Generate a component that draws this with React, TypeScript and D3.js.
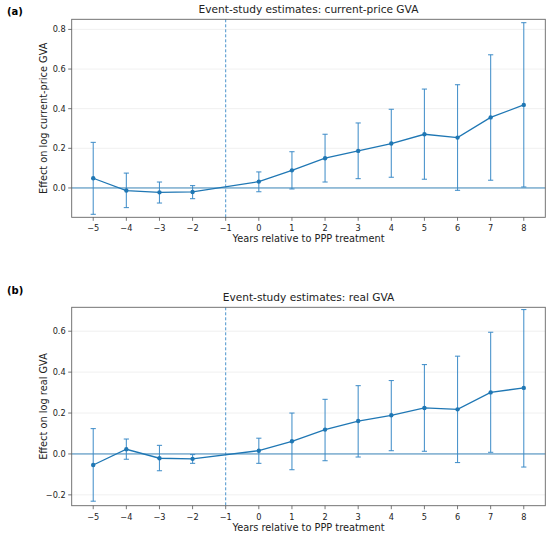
import React from "react";
import * as d3 from "d3";

const years = [-5, -4, -3, -2, 0, 1, 2, 3, 4, 5, 6, 7, 8];
const xTicks = [-5, -4, -3, -2, -1, 0, 1, 2, 3, 4, 5, 6, 7, 8];

const estA = [0.049, -0.013, -0.022, -0.02, 0.032, 0.089, 0.15, 0.187, 0.224, 0.271, 0.254, 0.356, 0.419];
const upA = [0.23, 0.075, 0.03, 0.012, 0.081, 0.183, 0.271, 0.328, 0.397, 0.499, 0.521, 0.672, 0.834];
const loA = [-0.133, -0.099, -0.076, -0.054, -0.019, -0.005, 0.03, 0.047, 0.054, 0.044, -0.012, 0.039, 0.005];
const yTicksA = [0.0, 0.2, 0.4, 0.6, 0.8];

const estB = [-0.054, 0.023, -0.021, -0.024, 0.016, 0.062, 0.119, 0.161, 0.189, 0.225, 0.218, 0.301, 0.323];
const upB = [0.124, 0.073, 0.042, -0.003, 0.077, 0.2, 0.267, 0.334, 0.359, 0.437, 0.478, 0.595, 0.706];
const loB = [-0.231, -0.026, -0.082, -0.046, -0.046, -0.077, -0.033, -0.015, 0.016, 0.013, -0.042, 0.008, -0.064];
const yTicksB = [-0.2, 0.0, 0.2, 0.4, 0.6];

const C0 = "#1f77b4";
const FONT = "DejaVu Sans, sans-serif";

type PanelProps = {
  top: number;
  bottom: number;
  tagY: number;
  yDomain: [number, number];
  est: number[];
  up: number[];
  lo: number[];
  yTicks: number[];
  title: string;
  ylabel: string;
  tag: string;
};

function fmt(v: number) {
  const s = v.toFixed(1);
  return s.startsWith("-") ? "\u2212" + s.slice(1) : s;
}

function fmtX(v: number) {
  return v < 0 ? "\u2212" + Math.abs(v) : String(v);
}

function Panel({ top, bottom, tagY, yDomain, est, up, lo, yTicks, title, ylabel, tag }: PanelProps) {
  const left = 71.7;
  const right = 545.3;
  const x = d3.scaleLinear().domain([-5.65, 8.65]).range([left, right]);
  const y = d3.scaleLinear().domain(yDomain).range([bottom, top]);
  const pts = years.map((yr, i) => [yr, est[i]] as [number, number]);
  const line = d3.line<[number, number]>().x((d) => x(d[0])).y((d) => y(d[1]));
  const cap = 2.6;
  return (
    <g>
      <text x={7} y={tagY} fontFamily={FONT} fontSize={10} fontWeight="bold" fill="#000">
        {tag}
      </text>
      <text x={(left + right) / 2} y={top - 6} textAnchor="middle" fontFamily={FONT} fontSize={10.6} fill="#222">
        {title}
      </text>
      {yTicks.map((t) => (
        <line key={"g" + t} x1={left} x2={right} y1={y(t)} y2={y(t)} stroke="#ececec" strokeWidth={0.8} />
      ))}
      <line x1={x(-1)} x2={x(-1)} y1={top} y2={bottom} stroke="#4a93cc" strokeWidth={1} strokeDasharray="3,2" />
      <line x1={left} x2={right} y1={y(0)} y2={y(0)} stroke={C0} strokeOpacity={0.85} strokeWidth={1} />
      {years.map((yr, i) => (
        <g key={"e" + yr} stroke="#3a8ac6" strokeOpacity={0.9} strokeWidth={1.1}>
          <line x1={x(yr)} x2={x(yr)} y1={y(lo[i])} y2={y(up[i])} />
          <line x1={x(yr) - cap} x2={x(yr) + cap} y1={y(lo[i])} y2={y(lo[i])} />
          <line x1={x(yr) - cap} x2={x(yr) + cap} y1={y(up[i])} y2={y(up[i])} />
        </g>
      ))}
      <path d={line(pts) || ""} fill="none" stroke={C0} strokeWidth={1.3} />
      {pts.map((p) => (
        <circle key={"m" + p[0]} cx={x(p[0])} cy={y(p[1])} r={2.2} fill={C0} />
      ))}
      <rect x={left} y={top} width={right - left} height={bottom - top} fill="none" stroke="#666" strokeWidth={0.9} />
      {xTicks.map((t) => (
        <g key={"xt" + t}>
          <line x1={x(t)} x2={x(t)} y1={bottom} y2={bottom + 3.5} stroke="#555" strokeWidth={0.8} />
          <text x={x(t)} y={bottom + 14} textAnchor="middle" fontFamily={FONT} fontSize={8.2} fill="#222">
            {fmtX(t)}
          </text>
        </g>
      ))}
      {yTicks.map((t) => (
        <g key={"yt" + t}>
          <line x1={left - 3.5} x2={left} y1={y(t)} y2={y(t)} stroke="#555" strokeWidth={0.8} />
          <text x={left - 6} y={y(t) + 3} textAnchor="end" fontFamily={FONT} fontSize={8.2} fill="#222">
            {fmt(t)}
          </text>
        </g>
      ))}
      <text x={(left + right) / 2} y={bottom + 25} textAnchor="middle" fontFamily={FONT} fontSize={9.8} fill="#222">
        Years relative to PPP treatment
      </text>
      <text
        transform={`translate(${43.5},${(top + bottom) / 2}) rotate(-90)`}
        textAnchor="middle"
        dominantBaseline="middle"
        fontFamily={FONT}
        fontSize={9.8}
        fill="#222"
      >
        {ylabel}
      </text>
    </g>
  );
}

export default function App() {
  return (
    <svg width={550} height={535} style={{ position: "absolute", left: 0, top: 0, background: "#fff" }}>
      <rect width={550} height={535} fill="#fff" />
      <Panel
        top={19.3}
        bottom={217.3}
        tagY={14.5}
        yDomain={[-0.148, 0.851]}
        est={estA}
        up={upA}
        lo={loA}
        yTicks={yTicksA}
        title="Event-study estimates: current-price GVA"
        ylabel="Effect on log current-price GVA"
        tag="(a)"
      />
      <Panel
        top={307.3}
        bottom={505.7}
        tagY={293.7}
        yDomain={[-0.253, 0.717]}
        est={estB}
        up={upB}
        lo={loB}
        yTicks={yTicksB}
        title="Event-study estimates: real GVA"
        ylabel="Effect on log real GVA"
        tag="(b)"
      />
    </svg>
  );
}
